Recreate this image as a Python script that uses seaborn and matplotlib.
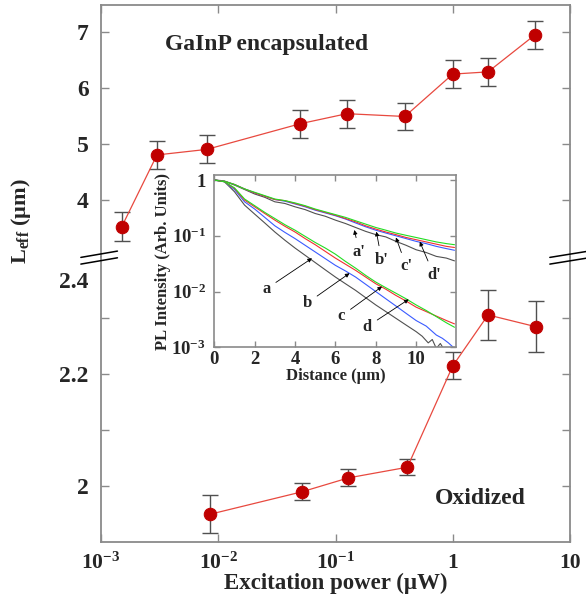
import numpy as np
import pandas as pd
import matplotlib
matplotlib.use("Agg")
import matplotlib.pyplot as plt
from matplotlib.lines import Line2D
from matplotlib.transforms import ScaledTranslation
import seaborn as sns

# ---------------- main data ----------------
power_top = [0.0015, 0.003, 0.008, 0.05, 0.125, 0.39, 1.0, 2.0, 5.0]
leff_top = [3.51, 4.80, 4.90, 5.36, 5.54, 5.49, 6.25, 6.29, 6.95]
err_top = [0.26, 0.25, 0.25, 0.25, 0.25, 0.25, 0.25, 0.25, 0.25]

power_bot = [0.0085, 0.0515, 0.129, 0.41, 1.0, 2.0, 5.1]
leff_bot = [1.950, 1.990, 2.015, 2.034, 2.215, 2.306, 2.285]
err_bot = [0.034, 0.015, 0.015, 0.014, 0.024, 0.045, 0.045]

xticks_main = [1e-3, 1e-2, 1e-1, 1, 10]
xticklabels_main = [r'10$^{\mathregular{-3}}$', r'10$^{\mathregular{-2}}$', r'10$^{\mathregular{-1}}$', '1', '10']
yticks_top = [4, 5, 6, 7]
yticklabels_top = ['4', '5', '6', '7']
yticks_bot = [2.0, 2.2, 2.4]
yticklabels_bot = ['2', '2.2', '2.4']
yticks_bot_minor = [2.1, 2.3]

# ---------------- inset data ----------------
dist_up = [0, 0.5, 1, 1.5, 2, 2.5, 3, 3.5, 4, 4.5, 5, 5.5, 6, 6.5, 7, 7.5, 8, 8.5, 9, 9.5, 10, 10.5, 11, 11.5, 11.9]
pl_a_prime = [1, 0.955, 0.813, 0.676, 0.562, 0.490, 0.407, 0.380, 0.331, 0.295, 0.251, 0.224, 0.191, 0.166,
              0.141, 0.120, 0.105, 0.0955, 0.0794, 0.0676, 0.0562, 0.0501, 0.0427, 0.0398, 0.0355]
pl_b_prime = [1, 0.955, 0.832, 0.692, 0.589, 0.513, 0.447, 0.417, 0.372, 0.331, 0.288, 0.257, 0.229, 0.200,
              0.170, 0.145, 0.126, 0.112, 0.100, 0.0891, 0.0794, 0.0724, 0.0646, 0.0589, 0.0550]
pl_c_prime = [1, 0.955, 0.832, 0.692, 0.589, 0.513, 0.447, 0.427, 0.380, 0.339, 0.295, 0.263, 0.234, 0.204,
              0.178, 0.151, 0.132, 0.117, 0.105, 0.0933, 0.0851, 0.0776, 0.0708, 0.0646, 0.0617]
pl_d_prime = [1, 0.955, 0.832, 0.692, 0.603, 0.525, 0.457, 0.427, 0.389, 0.347, 0.302, 0.269, 0.240, 0.214,
              0.186, 0.162, 0.141, 0.126, 0.112, 0.102, 0.0933, 0.0851, 0.0776, 0.0724, 0.0692]

dist_a = [0, 0.5, 1, 1.5, 2, 2.5, 3, 3.5, 4, 4.5, 5, 5.5, 6, 6.5, 7, 7.5, 8, 8.5, 9, 9.5, 10, 10.3, 10.6, 10.8,
          11.0, 11.2, 11.4]
pl_a = [1, 0.933, 0.617, 0.355, 0.245, 0.170, 0.117, 0.0832, 0.0603, 0.0447, 0.0331, 0.0245, 0.0182, 0.0138,
        0.0105, 0.00776, 0.00575, 0.00437, 0.00331, 0.00251, 0.00191, 0.00158, 0.00120, 0.00138, 0.000955,
        0.00117, 0.000891]
dist_b = [0, 0.5, 1, 1.5, 2, 2.5, 3, 3.5, 4, 4.5, 5, 5.5, 6, 6.5, 7, 7.5, 8, 8.5, 9, 9.5, 10, 10.5, 11, 11.3,
          11.6, 11.9]
pl_b = [1, 0.933, 0.676, 0.407, 0.302, 0.214, 0.151, 0.115, 0.0891, 0.0676, 0.0513, 0.0389, 0.0295, 0.0234,
        0.0182, 0.0135, 0.0100, 0.00741, 0.00550, 0.00407, 0.00302, 0.00240, 0.00166, 0.00145, 0.00120, 0.000955]
dist_cd = [0, 0.5, 1, 1.5, 2, 2.5, 3, 3.5, 4, 4.5, 5, 5.5, 6, 6.5, 7, 7.5, 8, 8.5, 9, 9.5, 10, 10.5, 11, 11.5, 11.9]
pl_c = [1, 0.933, 0.708, 0.437, 0.331, 0.251, 0.191, 0.148, 0.117, 0.0891, 0.0692, 0.0525, 0.0398, 0.0309,
        0.0240, 0.0182, 0.0138, 0.0110, 0.00851, 0.00676, 0.00525, 0.00437, 0.00363, 0.00302, 0.00263]
pl_d = [1, 0.933, 0.724, 0.457, 0.347, 0.263, 0.204, 0.158, 0.126, 0.0977, 0.0759, 0.0603, 0.0468, 0.0347,
        0.0263, 0.0195, 0.0148, 0.0117, 0.00933, 0.00741, 0.00575, 0.00457, 0.00355, 0.00275, 0.00229]

inset_xticks = [0, 2, 4, 6, 8, 10]
inset_yticks = [1e-3, 1e-2, 1e-1, 1]
inset_yticklabels = [r'10$^{\mathregular{-3}}$', r'10$^{\mathregular{-2}}$', r'10$^{\mathregular{-1}}$', '1']

# curve label annotations: label, text position (d, I), arrow tip (d, I)
ann_labels = ['a', 'b', 'c', 'd', "a'", "b'", "c'", "d'"]
ann_text_d = [2.57, 4.59, 6.29, 7.57, 7.18, 8.29, 9.52, 10.88]
ann_text_i = [0.01114, 0.00617, 0.00363, 0.00234, 0.0519, 0.0372, 0.0282, 0.01995]
ann_tip_d = [4.84, 6.70, 8.31, 9.63, 6.94, 8.03, 9.00, 10.18]
ann_tip_i = [0.03954, 0.02128, 0.0123, 0.00724, 0.127, 0.1186, 0.0933, 0.0785]

# ---------------- style ----------------
sns.set_theme(style="ticks")
plt.rcParams['font.family'] = ['Liberation Serif', 'DejaVu Serif']
plt.rcParams['font.weight'] = 'bold'
plt.rcParams['mathtext.fontset'] = 'custom'
plt.rcParams['mathtext.rm'] = 'Liberation Serif:bold'
plt.rcParams['mathtext.bf'] = 'Liberation Serif:bold'
plt.rcParams['mathtext.it'] = 'Liberation Serif:bold'
plt.rcParams['axes.unicode_minus'] = False

spine_c = '#8a8a8a'
marker_c = '#c00000'
line_c = '#e8493f'
err_c = '#505050'

fig = plt.figure(figsize=(5.86, 5.99), dpi=100)
ax_top = fig.add_axes([0.1724, 0.5710, 0.8003, 0.4207])
ax_bot = fig.add_axes([0.1724, 0.0952, 0.8003, 0.4758])

for ax, xs, ys, es in [(ax_top, power_top, leff_top, err_top), (ax_bot, power_bot, leff_bot, err_bot)]:
    ax.errorbar(xs, ys, yerr=es, fmt='none', ecolor=err_c, elinewidth=1.0, capsize=5.5, capthick=1.0, zorder=2)
    df = pd.DataFrame({'p': xs, 'l': ys})
    sns.lineplot(data=df, x='p', y='l', ax=ax, color=line_c, lw=0.9, marker='o', markersize=9,
                 markerfacecolor=marker_c, markeredgecolor=marker_c, zorder=3, sort=False)
    ax.set_xscale('log')
    ax.set_xlim(1e-3, 10)
    ax.set_xlabel('')
    ax.set_ylabel('')
    for s in ax.spines.values():
        s.set_color(spine_c)
        s.set_linewidth(1.3)
    ax.tick_params(which='both', direction='in', length=6, width=1.0, color=spine_c,
                   labelsize=17, left=True, right=True)
    ax.xaxis.set_minor_locator(matplotlib.ticker.NullLocator())

ax_top.set_ylim(2.97, 7.49)
ax_top.set_yticks(yticks_top, yticklabels_top)
ax_top.set_xticks(xticks_main)
ax_top.tick_params(axis='x', top=True, bottom=False, labelbottom=False)
ax_top.spines['bottom'].set_visible(False)
ax_top.tick_params(axis='y', pad=9)

ax_bot.set_ylim(1.9005, 2.4095)
ax_bot.set_yticks(yticks_bot, yticklabels_bot)
ax_bot.set_yticks(yticks_bot_minor, minor=True)
ax_bot.set_xticks(xticks_main, xticklabels_main)
ax_bot.tick_params(axis='x', top=False, bottom=True, labelsize=15.5, pad=8)
ax_bot.tick_params(axis='y', pad=9)
ax_bot.spines['top'].set_visible(False)
ax_bot.set_xlabel('Excitation power (µW)', fontsize=16.5, fontweight='bold', labelpad=-1)
# the 2.4 label sits a little below its nominal place, no tick mark at 2.4
t24 = ax_bot.yaxis.get_major_ticks()[-1]
t24.tick1line.set_visible(False)
t24.tick2line.set_visible(False)
lab = ax_bot.get_yticklabels()[-1]
lab.set_transform(lab.get_transform() + ScaledTranslation(0, -18 / 100, fig.dpi_scale_trans))

# break marks
for (x0, x1) in [(-0.043, 0.035), (0.957, 1.04)]:
    for dy in [0.0, -0.0235]:
        ax_bot.add_line(Line2D([x0, x1], [0.9985 + dy, 1.0206 + dy], transform=ax_bot.transAxes,
                               color='black', lw=1.1, clip_on=False, zorder=5))

ax_top.text(0.1365, 0.845, 'GaInP encapsulated', transform=ax_top.transAxes, fontsize=17,
            fontweight='bold', va='center', ha='left')
ax_bot.text(0.712, 0.154, 'Oxidized', transform=ax_bot.transAxes, fontsize=17,
            fontweight='bold', va='center', ha='left')

fig.text(0.036, 0.631, r'L$_{\mathregular{eff}}$ (µm)', rotation=90, fontsize=16,
         fontweight='bold', va='center', ha='center')

# ---------------- inset ----------------
ax_in = fig.add_axes([0.3657, 0.4202, 0.4133, 0.2876])
ax_in.set_facecolor('white')
ax_in.set_zorder(10)
curves = [
    (dist_up, pl_a_prime, '#505050'), (dist_up, pl_b_prime, '#3a5bff'),
    (dist_up, pl_c_prime, '#f03030'), (dist_up, pl_d_prime, '#22dd22'),
    (dist_a, pl_a, '#505050'), (dist_b, pl_b, '#3a5bff'),
    (dist_cd, pl_c, '#f03030'), (dist_cd, pl_d, '#22dd22'),
]
for xs, ys, c in curves:
    sns.lineplot(x=xs, y=ys, ax=ax_in, color=c, lw=0.8, sort=False)
ax_in.set_yscale('log')
ax_in.set_xlim(0, 12)
ax_in.set_ylim(1e-3, 1.23)
ax_in.set_xticks(inset_xticks, [str(v) for v in inset_xticks])
ax_in.set_yticks(inset_yticks, inset_yticklabels)
ax_in.yaxis.set_minor_locator(matplotlib.ticker.NullLocator())
ax_in.xaxis.set_minor_locator(matplotlib.ticker.NullLocator())
for s in ax_in.spines.values():
    s.set_color(spine_c)
    s.set_linewidth(1.2)
ax_in.tick_params(which='both', direction='in', length=4, width=1.0, color=spine_c,
                  labelsize=13.5, top=True, right=True, pad=3)
ax_in.tick_params(axis='y', pad=6)
ax_in.set_xlabel('Distance (µm)', fontsize=12, fontweight='bold', labelpad=0)
ax_in.set_ylabel('PL Intensity (Arb. Units)', fontsize=12, fontweight='bold', labelpad=0)

for lbl, tx, ty, px, py in zip(ann_labels, ann_text_d, ann_text_i, ann_tip_d, ann_tip_i):
    ax_in.annotate(lbl, xy=(px, py), xytext=(tx, ty), fontsize=12, fontweight='bold',
                   ha='center', va='center',
                   arrowprops=dict(arrowstyle='-|>', color='black', lw=0.6, mutation_scale=6,
                                   shrinkA=2, shrinkB=0))

fig.savefig('out.png', dpi=100)
